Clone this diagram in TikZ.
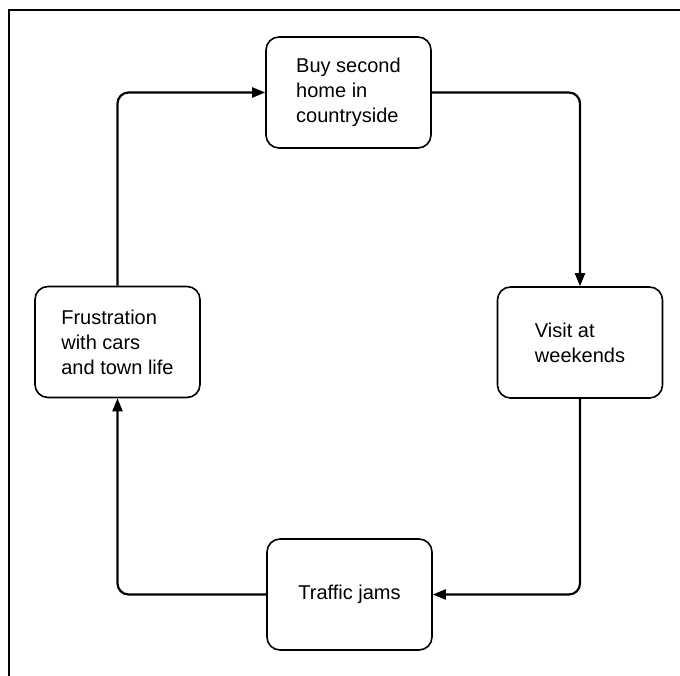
\documentclass[tikz,border=0pt]{standalone}
\usepackage{fontspec}
\setmainfont{Liberation Sans}
\usetikzlibrary{arrows.meta}
\tikzset{
  stepbox/.style={draw, line width=1.6pt, rounded corners=13pt, minimum width=165pt, minimum height=111pt, align=left, inner sep=0pt, font=\fontsize{20}{25}\selectfont},
  conn/.style={draw, line width=2.2pt, rounded corners=11pt, -{Triangle[length=13pt,width=10pt]}},
  frame/.style={draw, line width=1.5pt}
}
\begin{document}
\begin{tikzpicture}[x=1pt,y=-1pt]
\useasboundingbox (0,0) rectangle (680,676);
\draw[frame] (9,676) -- (9,10) -- (680,10);
\node[stepbox] (top) at (348.5,92.5) {Buy second\\home in\\countryside};
\node[stepbox] (right) at (580,342.5) {Visit at\\weekends};
\node[stepbox] (bot) at (349.5,594.5) {Traffic jams};
\node[stepbox] (left) at (117.5,342) {Frustration\\with cars\\and town life};
\draw[conn] (top.east) -| (right.north);
\draw[conn] (right.south) |- (bot.east);
\draw[conn] (bot.west) -| (left.south);
\draw[conn] (left.north) |- (top.west);
\end{tikzpicture}
\end{document}
